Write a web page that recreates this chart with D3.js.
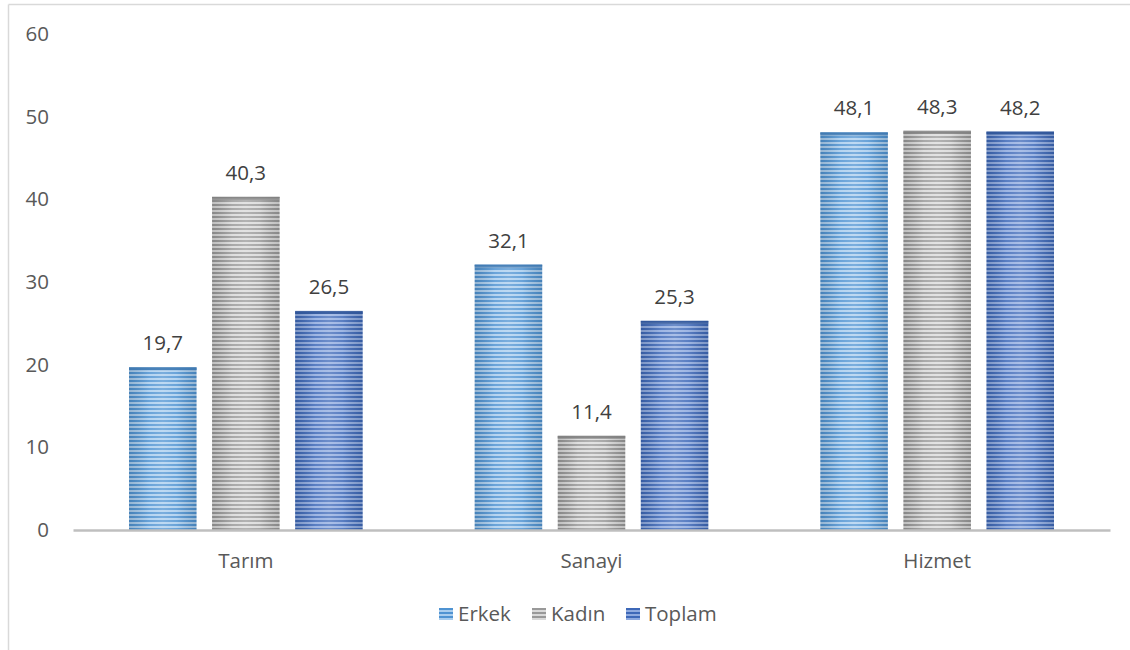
<!DOCTYPE html>
<html>
<head>
<meta charset="utf-8">
<script src="https://cdn.jsdelivr.net/npm/d3@7"></script>
<style>
  html, body { margin: 0; padding: 0; background: #fff; }
  svg { display: block; }
  text { font-family: "Open Sans", "Noto Sans", sans-serif; }
</style>
</head>
<body>
<svg id="chart" width="1130" height="650"></svg>
<script>
const categories = ["Tarım", "Sanayi", "Hizmet"];
const seriesNames = ["Erkek", "Kadın", "Toplam"];
const erkek = [19.7, 32.1, 48.1];
const kadin = [40.3, 11.4, 48.3];
const toplam = [26.5, 25.3, 48.2];
const yTicks = [0, 10, 20, 30, 40, 50, 60];
const seriesValues = [erkek, kadin, toplam];

const colors = {
  "Erkek":  { dark: "#4f93d2", light: "#a9cdee", edge: "#3e78b0" },
  "Kadın":  { dark: "#999999", light: "#d9d9d9", edge: "#7f7f7f" },
  "Toplam": { dark: "#3d68b8", light: "#8eaadf", edge: "#2f5597" }
};

const svg = d3.select("#chart");
const defs = svg.append("defs");

seriesNames.forEach((s, i) => {
  const c = colors[s];
  const p = defs.append("pattern")
    .attr("id", "pat" + i)
    .attr("patternUnits", "userSpaceOnUse")
    .attr("width", 8).attr("height", 4);
  p.append("rect").attr("width", 8).attr("height", 4).attr("fill", c.light);
  p.append("rect").attr("y", 0).attr("width", 8).attr("height", 2).attr("fill", c.dark);
});

const grad = defs.append("linearGradient").attr("id", "shade")
  .attr("x1", "0%").attr("x2", "100%").attr("y1", "0%").attr("y2", "0%");
grad.append("stop").attr("offset", "0%").attr("stop-color", "#000").attr("stop-opacity", 0.12);
grad.append("stop").attr("offset", "30%").attr("stop-color", "#fff").attr("stop-opacity", 0.15);
grad.append("stop").attr("offset", "50%").attr("stop-color", "#fff").attr("stop-opacity", 0.25);
grad.append("stop").attr("offset", "70%").attr("stop-color", "#fff").attr("stop-opacity", 0.15);
grad.append("stop").attr("offset", "100%").attr("stop-color", "#000").attr("stop-opacity", 0.12);

// frame
svg.append("line").attr("x1", 8.5).attr("x2", 1130).attr("y1", 4.5).attr("y2", 4.5)
  .attr("stroke", "#d9d9d9").attr("stroke-width", 1.5);
svg.append("line").attr("x1", 8.5).attr("x2", 8.5).attr("y1", 4.5).attr("y2", 650)
  .attr("stroke", "#d9d9d9").attr("stroke-width", 1.5);

const plotLeft = 73, plotRight = 1110;
const y = d3.scaleLinear().domain([0, 60]).range([530, 34]);
const x0 = d3.scaleBand().domain(categories).range([plotLeft, plotRight]).padding(0);
const outer = 56;
const x1 = d3.scaleBand().domain(seriesNames)
  .range([outer, x0.bandwidth() - outer]).paddingInner(0.187).paddingOuter(0);

const FS = 20.5;

// y axis labels
const yAxis = d3.axisLeft(y).tickValues(yTicks).tickSize(0).tickPadding(0);
const gy = svg.append("g").attr("transform", "translate(49,0)").call(yAxis);
gy.select(".domain").remove();
gy.selectAll("text").attr("font-size", FS).attr("fill", "#595959")
  .attr("font-family", "'Open Sans', sans-serif");

// bars
const groups = svg.append("g").selectAll("g").data(categories).join("g")
  .attr("transform", d => `translate(${x0(d)},0)`);

groups.each(function (cat, ci) {
  const g = d3.select(this);
  seriesNames.forEach((s, si) => {
    const v = seriesValues[si][ci];
    const bx = x1(s), bw = x1.bandwidth();
    g.append("rect").attr("x", bx).attr("y", y(v)).attr("width", bw).attr("height", y(0) - y(v))
      .attr("fill", `url(#pat${si})`);
    g.append("rect").attr("x", bx).attr("y", y(v)).attr("width", bw).attr("height", y(0) - y(v))
      .attr("fill", "url(#shade)");
    g.append("rect").attr("x", bx).attr("y", y(v)).attr("width", bw).attr("height", 3)
      .attr("fill", colors[s].edge).attr("opacity", 0.8);
    g.append("text").attr("x", bx + bw / 2).attr("y", y(v) - 17)
      .attr("text-anchor", "middle").attr("font-size", FS).attr("fill", "#404040")
      .text(String(v).replace(".", ","));
  });
});

// x axis
const xAxis = d3.axisBottom(x0).tickSize(0).tickPadding(0);
const gx = svg.append("g").attr("transform", "translate(0,530)").call(xAxis);
gx.select(".domain").attr("stroke", "#bfbfbf").attr("stroke-width", 2.5);
gx.selectAll("text").attr("font-size", FS).attr("fill", "#595959").attr("dy", "1.85em")
  .attr("font-family", "'Open Sans', sans-serif");

// legend
const legendX = [439, 532, 626];
const leg = svg.append("g");
seriesNames.forEach((s, i) => {
  leg.append("rect").attr("x", legendX[i]).attr("y", 608).attr("width", 14).attr("height", 12)
    .attr("fill", `url(#pat${i})`);
  leg.append("text").attr("x", legendX[i] + 19).attr("y", 614).attr("dy", "0.35em")
    .attr("font-size", FS).attr("fill", "#595959").text(s);
});
</script>
</body>
</html>
